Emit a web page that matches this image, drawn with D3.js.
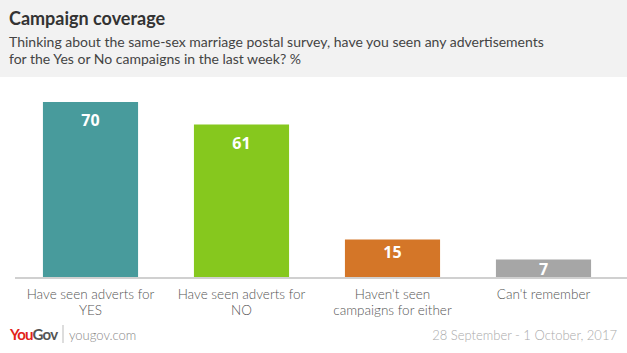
<!DOCTYPE html>
<html>
<head>
<meta charset="utf-8">
<script src="https://cdn.jsdelivr.net/npm/d3@7"></script>
<style>
  body { margin: 0; background: #fff; }
  svg { display: block; font-family: Lato, "Open Sans", sans-serif; }
</style>
</head>
<body>
<svg id="chart"></svg>
<script>
const categories = [
    ["Have seen adverts for", "YES"],
    ["Have seen adverts for", "NO"],
    ["Haven't seen", "campaigns for either"],
    ["Can't remember"]
];
const values = [70, 61, 15, 7];
const barColors = ["#489b9c", "#86c81e", "#d47628", "#a6a6a6"];

const width = 627, height = 353;
const margin = { top: 90, right: 8, bottom: 76, left: 15 };

const svg = d3.select("#chart").attr("width", width).attr("height", height);

// header band
svg.append("rect")
    .attr("x", 0).attr("y", 0)
    .attr("width", width).attr("height", 77)
    .attr("fill", "#f2f2f2");

svg.append("text")
    .attr("x", 9).attr("y", 25)
    .style("font-size", "18px")
    .style("font-weight", "bold")
    .attr("fill", "#333")
    .text("Campaign coverage");

const subtitle = [
    "Thinking about the same-sex marriage postal survey, have you seen any advertisements",
    "for the Yes or No campaigns in the last week? %"
];
svg.selectAll(".subtitle")
    .data(subtitle)
    .enter().append("text")
    .attr("class", "subtitle")
    .attr("x", 9)
    .attr("y", (d, i) => 47 + i * 17)
    .style("font-size", "14px")
    .attr("fill", "#444")
    .text(d => d);

// scales
const x = d3.scaleBand()
    .domain(d3.range(values.length))
    .range([margin.left, width - margin.right])
    .paddingInner(0.37)
    .paddingOuter(0.185);

const y = d3.scaleLinear()
    .domain([0, 70])
    .range([height - margin.bottom, 102]);

const g = svg.append("g");

g.selectAll(".bar")
    .data(values)
    .enter().append("rect")
    .attr("class", "bar")
    .attr("x", (d, i) => x(i))
    .attr("y", d => y(d))
    .attr("width", x.bandwidth())
    .attr("height", d => y(0) - y(d))
    .attr("fill", (d, i) => barColors[i]);

// baseline
g.append("line")
    .attr("x1", margin.left).attr("x2", width)
    .attr("y1", y(0) + 1).attr("y2", y(0) + 1)
    .attr("stroke", "#d0d0d0")
    .attr("stroke-width", 2);

// value labels inside bars
g.selectAll(".value-label")
    .data(values)
    .enter().append("text")
    .attr("class", "value-label")
    .attr("x", (d, i) => x(i) + x.bandwidth() / 2)
    .attr("y", d => {
        const h = y(0) - y(d);
        return y(d) + Math.min(24, Math.max(15, h / 2));
    })
    .attr("text-anchor", "middle")
    .style("font-family", "'Open Sans', sans-serif")
    .style("font-size", "16px")
    .style("font-weight", "bold")
    .attr("fill", "#fff")
    .text(d => d);

// category labels
const catLabels = g.selectAll(".cat-label")
    .data(categories)
    .enter().append("text")
    .attr("class", "cat-label")
    .attr("text-anchor", "middle")
    .style("font-size", "13.5px")
    .style("font-weight", "300")
    .attr("fill", "#555");

catLabels.selectAll("tspan")
    .data((d, i) => d.map(t => ({ t, i })))
    .enter().append("tspan")
    .attr("x", d => x(d.i) + x.bandwidth() / 2)
    .attr("y", (d, j) => 299 + j * 16)
    .text(d => d.t);

// footer
const logo = svg.append("text")
    .attr("x", 10).attr("y", 340)
    .style("font-size", "15px")
    .style("font-weight", "bold")
    .style("letter-spacing", "-0.8px");
logo.append("tspan").attr("fill", "#e2231a").text("You");
logo.append("tspan").attr("fill", "#555").text("Gov");

svg.append("line")
    .attr("x1", 63).attr("x2", 63)
    .attr("y1", 325).attr("y2", 343)
    .attr("stroke", "#bbb");

svg.append("text")
    .attr("x", 69).attr("y", 340)
    .style("font-size", "13px")
    .style("font-weight", "300")
    .attr("fill", "#888")
    .text("yougov.com");

svg.append("text")
    .attr("x", 617).attr("y", 340)
    .attr("text-anchor", "end")
    .style("font-size", "13px")
    .style("font-weight", "300")
    .attr("fill", "#aaa")
    .text("28 September - 1 October, 2017");
</script>
</body>
</html>
